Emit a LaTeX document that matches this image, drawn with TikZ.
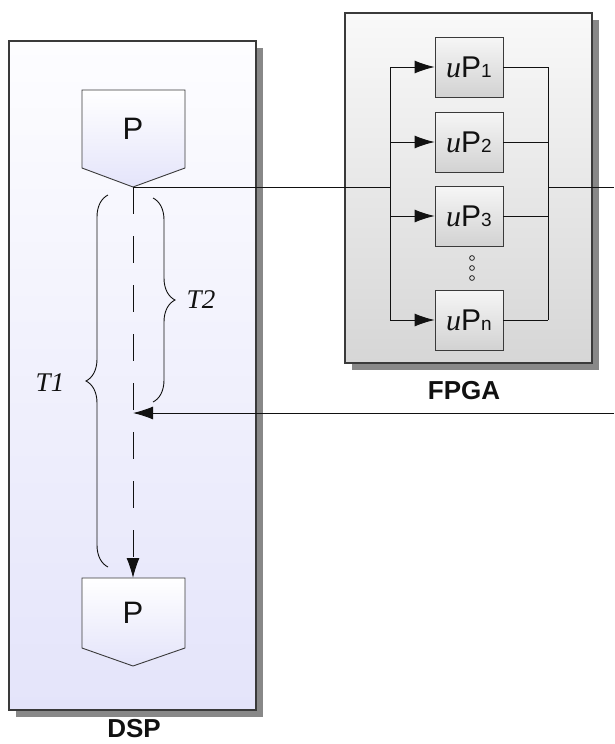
\documentclass[tikz,border=0pt]{standalone}
\usepackage{fontspec}
\setmainfont{Liberation Serif}
\setsansfont{Liberation Sans}
\usetikzlibrary{positioning,arrows.meta,shadows,decorations.pathreplacing}
\definecolor{dsptop}{HTML}{FDFDFF}
\definecolor{dspbot}{HTML}{E4E4FA}
\definecolor{fpgatop}{HTML}{F9F9F9}
\definecolor{fpgabot}{HTML}{D6D6D6}
\definecolor{boxtop}{HTML}{F6F6F6}
\definecolor{boxbot}{HTML}{D2D2D2}
\definecolor{shade}{HTML}{888888}
\definecolor{frame}{HTML}{3A3A3A}
\definecolor{ink}{HTML}{111111}

\begin{document}
\begin{tikzpicture}[x=1pt,y=-1pt,>={Latex[length=20pt,width=13pt]},line width=0.9pt,ink,
    panel/.style={draw=frame,line width=1.3pt,inner sep=0pt,
      drop shadow={shadow xshift=7pt,shadow yshift=-7pt,fill=shade,opacity=1}},
    upbox/.style={draw=frame,minimum width=68pt,minimum height=60pt,inner sep=0pt,
      top color=boxtop,bottom color=boxbot,font=\sffamily\fontsize{30}{30}\selectfont},
    boxname/.style={inner sep=0pt,font=\sffamily\bfseries\fontsize{26}{26}\selectfont},
    tname/.style={font=\rmfamily\itshape\fontsize{27}{27}\selectfont},
    brc/.style={decorate,decoration={brace,amplitude=22pt}}]
  \useasboundingbox (0,0) rectangle (614,744);
  % the two units
  \node[panel,minimum width=247pt,minimum height=669pt,top color=dsptop,bottom color=dspbot]
    (dsp) at (132.5,375.5) {};
  \node[panel,minimum width=247pt,minimum height=350pt,top color=fpgatop,bottom color=fpgabot]
    (fpga) at (468.5,188) {};
  \node[boxname] (dspname) at (134,729) {DSP};
  \node[boxname] (fpganame) at (464,391) {FPGA};
  % P blocks
  \foreach \t/\s/\b/\n in {90/168/187/ptop,578/648/666/pbot} {
    \path[draw=frame,top color=white,bottom color=dspbot]
      (82,\t) -- (185,\t) -- (185,\s) -- (133,\b) -- (82,\s) -- cycle;
    \node[font=\sffamily\fontsize{31}{31}\selectfont] (\n) at (133,{(\t+\s)/2}) {P};
    \coordinate (\n tip) at (133,\b);
    \coordinate (\n top) at (133,\t);
  }
  % parallel uP units
  \coordinate (split) at (390,187);
  \coordinate (merge) at (548,187);
  \foreach \y/\k in {67/1,142/2,216/3,320/n} {
    \node[upbox] (up\k) at (469,\y) {{\rmfamily\itshape u}P{\fontsize{19}{19}\selectfont\k}};
    \draw[->] (split |- up\k) -- (up\k.west);
    \draw (up\k.east) -- (merge |- up\k);
  }
  \draw (split |- up1) -- (split |- upn);
  \draw (merge |- up1) -- (merge |- upn);
  \foreach \d in {258,268,278}
    \draw[line width=0.7pt] (472,\d) circle (2.4pt);
  % links
  \coordinate (outR) at (614,187);
  \coordinate (inR) at (614,413);
  \coordinate (hit) at (133,413);
  \draw (ptoptip) -- (split);
  \draw (merge) -- (outR);
  \draw[->] (inR) -- (hit);
  \draw[->,dash pattern=on 27pt off 22pt] (ptoptip) -- (pbottop);
  % timing
  \draw[brc] (108,567) -- (108,195);
  \draw[brc] (153,198) -- (153,402);
  \node[tname] (t1) at (50,383) {T1};
  \node[tname] (t2) at (201,300) {T2};
\end{tikzpicture}
\end{document}
